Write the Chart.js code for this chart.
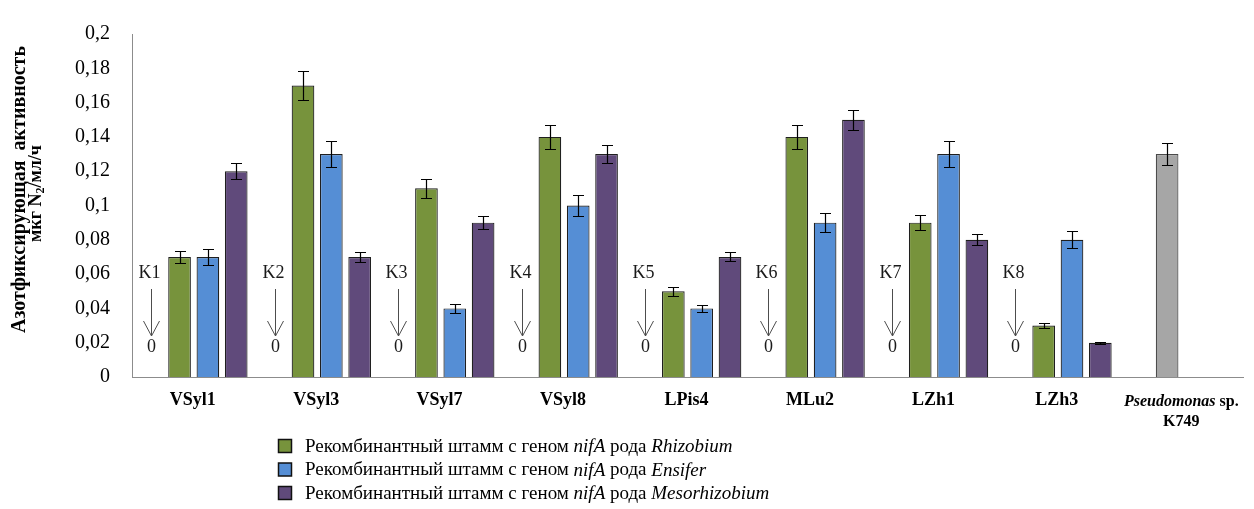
<!DOCTYPE html>
<html lang="ru">
<head>
<meta charset="utf-8">
<title>Азотфиксирующая активность рекомбинантных штаммов</title>
<script src="https://cdn.jsdelivr.net/npm/chart.js@4.4.1/dist/chart.umd.min.js"></script>
<style>
  html, body { margin: 0; padding: 0; background: #ffffff; }
  #wrap { width: 1254px; height: 509px; position: relative; }
</style>
</head>
<body>
<div id="wrap"><canvas id="chart" width="1254" height="509"></canvas></div>
<script>
// ---- data -------------------------------------------------------------
const categories = ['VSyl1', 'VSyl3', 'VSyl7', 'VSyl8', 'LPis4', 'MLu2', 'LZh1', 'LZh3', 'Pseudomonas sp. K749'];
const referenceGenus = 'Pseudomonas';

// controls (K1..K8): no activity
const controlLabels = ['K1', 'K2', 'K3', 'K4', 'K5', 'K6', 'K7', 'K8', null];
const controlValues = [0, 0, 0, 0, 0, 0, 0, 0, null];

const genera = ['Rhizobium', 'Ensifer', 'Mesorhizobium'];

const rhizobium    = [0.07, 0.17, 0.11, 0.14, 0.05, 0.14, 0.09, 0.03, null];
const rhizobiumErr = [0.0037, 0.0085, 0.0055, 0.007, 0.0027, 0.007, 0.0045, 0.0014, null];

const ensifer      = [0.07, 0.13, 0.04, 0.10, 0.04, 0.09, 0.13, 0.08, null];
const ensiferErr   = [0.0045, 0.0075, 0.0024, 0.006, 0.002, 0.0055, 0.0075, 0.005, null];

const mesorhizobium    = [0.12, 0.07, 0.09, 0.13, 0.07, 0.15, 0.08, 0.02, null];
const mesorhizobiumErr = [0.0045, 0.003, 0.0037, 0.0055, 0.0026, 0.0057, 0.0033, 0.0005, null];

// reference strain Pseudomonas sp. K749
const reference    = [null, null, null, null, null, null, null, null, 0.13];
const referenceErr = [null, null, null, null, null, null, null, null, 0.0065];

const yMin = 0, yMax = 0.2, yStep = 0.02;
const yTitleLine1 = 'Азотфиксирующая  активность';
const yTitleUnit = ['мкг N', '2', '/мл/ч'];   // N with subscript 2

// ---- styling ----------------------------------------------------------
const SERIF = '"Liberation Serif", "Times New Roman", "DejaVu Serif", serif';
const COLORS = ['#77933C', '#558ED5', '#604A7B'];
const GRAY = '#A6A6A6';
const AXIS = '#8c8c8c';

const legendPrefix = 'Рекомбинантный штамм с геном ';
const legendGene = 'nifA';
const legendMid = ' рода ';

const fmtTick = v => {
  const r = Math.round(v * 100) / 100;
  return String(r).replace('.', ',');
};

// draw a run of [text, font, dy] pieces starting at x
function drawRuns(ctx, runs, x, y, align) {
  let total = 0;
  runs.forEach(r => { ctx.font = r[1]; total += ctx.measureText(r[0]).width; });
  let cx = align === 'center' ? x - total / 2 : x;
  ctx.textAlign = 'left';
  runs.forEach(r => {
    ctx.font = r[1];
    ctx.fillText(r[0], cx, y + (r[2] || 0));
    cx += ctx.measureText(r[0]).width;
  });
}

// whiskers for every dataset that carries an "errors" array
const errorBars = {
  id: 'errorBars',
  afterDatasetsDraw(chart) {
    const { ctx } = chart;
    const y = chart.scales.y;
    ctx.save();
    ctx.strokeStyle = '#000';
    ctx.lineWidth = 1.2;
    chart.data.datasets.forEach((ds, di) => {
      if (!ds.errors) return;
      const meta = chart.getDatasetMeta(di);
      meta.data.forEach((bar, i) => {
        const v = ds.data[i], e = ds.errors[i];
        if (v == null || e == null) return;
        const x = Math.round(bar.x) + 0.5;
        const yt = Math.round(y.getPixelForValue(v + e)) + 0.5;
        const yb = Math.round(y.getPixelForValue(v - e)) + 0.5;
        const cap = 5.5;
        ctx.beginPath();
        ctx.moveTo(x, yt); ctx.lineTo(x, yb);
        ctx.moveTo(x - cap, yt); ctx.lineTo(x + cap, yt);
        ctx.moveTo(x - cap, yb); ctx.lineTo(x + cap, yb);
        ctx.stroke();
      });
    });
    ctx.restore();
  }
};

// control markers: "Kn", a down arrow and the control value
const controlMarks = {
  id: 'controlMarks',
  afterDatasetsDraw(chart) {
    const { ctx } = chart;
    const meta = chart.getDatasetMeta(0);
    ctx.save();
    meta.data.forEach((bar, i) => {
      const label = controlLabels[i];
      const v = controlValues[i];
      if (label == null || v == null) return;
      const x = Math.round(bar.x) + 0.5;
      const base = bar.y;
      ctx.fillStyle = '#1a1a1a';
      ctx.font = '18px ' + SERIF;
      ctx.textAlign = 'center';
      ctx.textBaseline = 'middle';
      ctx.fillText(label, x - 2, base - 104);
      ctx.fillText(String(v), x, base - 30);
      ctx.strokeStyle = '#4d4d4d';
      ctx.lineWidth = 1;
      ctx.beginPath();
      ctx.moveTo(x, base - 88); ctx.lineTo(x, base - 41);
      ctx.moveTo(x - 8, base - 56); ctx.lineTo(x, base - 41); ctx.lineTo(x + 8, base - 56);
      ctx.stroke();
    });
    ctx.restore();
  }
};

// rotated two-line value-axis title
const valueAxisTitle = {
  id: 'valueAxisTitle',
  afterDraw(chart) {
    const { ctx, chartArea } = chart;
    const cy = (chartArea.top + chartArea.bottom) / 2;
    const f = 'bold 20px ' + SERIF;
    ctx.save();
    ctx.fillStyle = '#000';
    ctx.textBaseline = 'middle';
    ctx.translate(20, cy - 16);
    ctx.rotate(-Math.PI / 2);
    drawRuns(ctx, [[yTitleLine1, f]], 0, 0, 'center');
    ctx.restore();

    const f2 = 'bold 18px ' + SERIF;
    ctx.save();
    ctx.fillStyle = '#000';
    ctx.textBaseline = 'middle';
    ctx.translate(36, cy - 12);
    ctx.rotate(-Math.PI / 2);
    drawRuns(ctx, [
      [yTitleUnit[0], f2],
      [yTitleUnit[1], 'bold 12px ' + SERIF, 5],
      [yTitleUnit[2], f2]
    ], 0, 0, 'center');
    ctx.restore();
  }
};

// category labels under the x axis (genus names in italics)
const categoryLabels = {
  id: 'categoryLabels',
  afterDraw(chart) {
    const { ctx } = chart;
    const x = chart.scales.x;
    ctx.save();
    ctx.fillStyle = '#000';
    ctx.textBaseline = 'alphabetic';
    categories.forEach((cat, i) => {
      const px = x.getPixelForTick(i);
      const words = cat.split(' ');
      if (words[0] === referenceGenus) {
        const f = '16px ' + SERIF;
        drawRuns(ctx, [[words[0], 'italic bold ' + f], [' ' + words[1], 'bold ' + f]], px, 406, 'center');
        drawRuns(ctx, [[words.slice(2).join(' '), 'bold ' + f]], px, 426, 'center');
      } else {
        drawRuns(ctx, [[cat, 'bold 18px ' + SERIF]], px - 1, 405, 'center');
      }
    });
    ctx.restore();
  }
};

// stacked legend with italic gene / genus names
const seriesLegend = {
  id: 'seriesLegend',
  afterDraw(chart) {
    const { ctx } = chart;
    const rows = [446, 469.5, 493];
    ctx.save();
    genera.forEach((g, i) => {
      const ds = chart.data.datasets[i + 1];
      const cy = rows[i];
      ctx.fillStyle = ds.backgroundColor;
      ctx.fillRect(278.5, cy - 6.5, 13, 13);
      ctx.strokeStyle = '#111';
      ctx.lineWidth = 1.5;
      ctx.strokeRect(278.5, cy - 6.5, 13, 13);
      ctx.fillStyle = '#000';
      ctx.textBaseline = 'middle';
      const f = '19px ' + SERIF;
      drawRuns(ctx, [
        [legendPrefix, f],
        [legendGene, 'italic ' + f],
        [legendMid, f],
        [g, 'italic ' + f]
      ], 305, cy + 1, 'left');
    });
    ctx.restore();
  }
};

const seriesData = [rhizobium, ensifer, mesorhizobium];
const seriesErr = [rhizobiumErr, ensiferErr, mesorhizobiumErr];

const datasets = [
  {
    label: 'Контроль',
    data: controlValues,
    stack: 'k',
    backgroundColor: 'rgba(0,0,0,0)',
    borderWidth: 0
  },
  ...genera.map((g, i) => ({
    label: legendPrefix + legendGene + legendMid + g,
    data: seriesData[i],
    errors: seriesErr[i],
    stack: 's' + i,
    backgroundColor: COLORS[i],
    borderColor: '#1f1f1f',
    borderWidth: 1.2
  })),
  {
    label: 'Pseudomonas sp. K749',
    data: reference,
    errors: referenceErr,
    stack: 's0',
    backgroundColor: GRAY,
    borderColor: '#4a4a4a',
    borderWidth: 1.2
  }
];

new Chart(document.getElementById('chart'), {
  type: 'bar',
  data: { labels: categories, datasets },
  options: {
    responsive: false,
    animation: false,
    devicePixelRatio: 1,
    layout: { padding: { left: 0, top: 22, right: 11, bottom: 0 } },
    datasets: { bar: { categoryPercentage: 0.918, barPercentage: 0.8 } },
    plugins: {
      legend: { display: false },
      tooltip: { enabled: false },
      title: { display: false }
    },
    scales: {
      x: {
        stacked: true,
        ticks: { display: false },
        grid: { display: false, drawTicks: false },
        border: { display: true, color: AXIS, width: 1 },
        afterFit(s) { s.height = 132; }
      },
      y: {
        stacked: false,
        min: yMin,
        max: yMax,
        ticks: {
          stepSize: yStep,
          padding: 22,
          color: '#000',
          font: { family: SERIF, size: 20 },
          callback: v => fmtTick(v)
        },
        grid: { display: false, drawTicks: false },
        border: { display: true, color: AXIS, width: 1 },
        afterFit(s) { s.width = 132; }
      }
    }
  },
  plugins: [errorBars, controlMarks, valueAxisTitle, categoryLabels, seriesLegend]
});
</script>
</body>
</html>
